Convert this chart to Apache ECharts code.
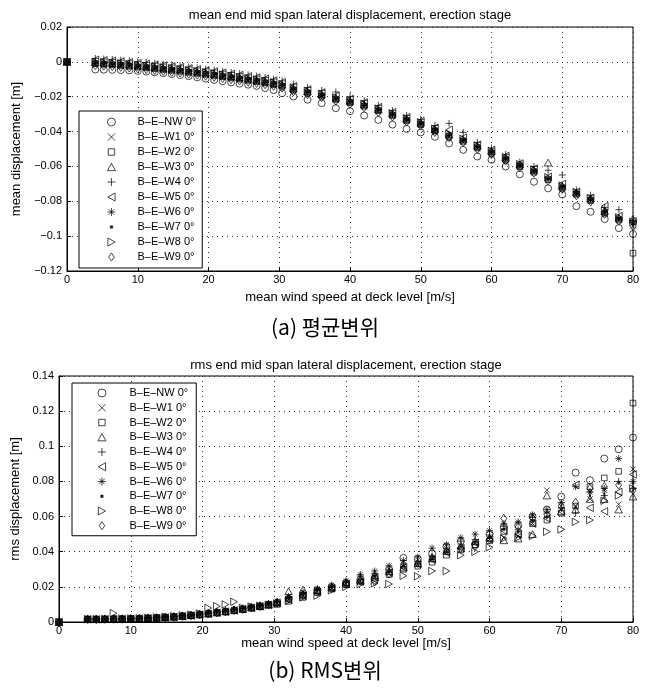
<!DOCTYPE html>
<html><head><meta charset="utf-8">
<script src="https://cdn.jsdelivr.net/npm/echarts/dist/echarts.min.js"></script>
<style>html,body{margin:0;padding:0;background:#fff}#c{width:651px;height:695px}</style>
</head><body><div id="c"></div>
<script>
// wind speed at deck level [m/s]
const speeds = [0, 4.0, 5.2, 6.4, 7.6, 8.8, 10.0, 11.2, 12.4, 13.6, 14.8, 16.0, 17.2, 18.4, 19.6, 20.8, 22.0, 23.2, 24.4, 25.6, 26.8, 28.0, 29.2, 30.4, 32, 34, 36, 38, 40, 42, 44, 46, 48, 50, 52, 54, 56, 58, 60, 62, 64, 66, 68, 70, 72, 74, 76, 78, 80];
const seriesNames = ['B–E–NW 0°', 'B–E–W1 0°', 'B–E–W2 0°', 'B–E–W3 0°', 'B–E–W4 0°', 'B–E–W5 0°', 'B–E–W6 0°', 'B–E–W7 0°', 'B–E–W8 0°', 'B–E–W9 0°'];
const xTicks = [0, 10, 20, 30, 40, 50, 60, 70, 80];
const meanTicks = [-0.12, -0.1, -0.08, -0.06, -0.04, -0.02, 0, 0.02];
const rmsTicks = [0, 0.02, 0.04, 0.06, 0.08, 0.1, 0.12, 0.14];

// (a) mean displacement [m]
const meanNW = [0, -0.0044, -0.0045, -0.0046, -0.0047, -0.0049, -0.0052, -0.0056, -0.0060, -0.0065, -0.0070, -0.0076, -0.0082, -0.0089, -0.0096, -0.0104, -0.0111, -0.0118, -0.0125, -0.0131, -0.0138, -0.0150, -0.0162, -0.0180, -0.0199, -0.0217, -0.0237, -0.0266, -0.0283, -0.0308, -0.0333, -0.0360, -0.0385, -0.0405, -0.0430, -0.0468, -0.0505, -0.0543, -0.0562, -0.0601, -0.0645, -0.0688, -0.0726, -0.0761, -0.0828, -0.0860, -0.0902, -0.0954, -0.0988];
const meanW1 = [0, -0.0013, -0.0016, -0.0019, -0.0023, -0.0027, -0.0032, -0.0036, -0.0041, -0.0046, -0.0051, -0.0056, -0.0062, -0.0068, -0.0074, -0.0080, -0.0087, -0.0094, -0.0101, -0.0108, -0.0115, -0.0123, -0.0132, -0.0142, -0.0163, -0.0181, -0.0198, -0.0219, -0.0237, -0.0257, -0.0285, -0.0311, -0.0340, -0.0363, -0.0400, -0.0431, -0.0459, -0.0497, -0.0527, -0.0565, -0.0604, -0.0636, -0.0680, -0.0728, -0.0765, -0.0800, -0.0872, -0.0910, -0.0940];
const meanW2 = [0, -0.0011, -0.0014, -0.0017, -0.0021, -0.0025, -0.0030, -0.0034, -0.0039, -0.0044, -0.0049, -0.0054, -0.0060, -0.0066, -0.0072, -0.0078, -0.0085, -0.0092, -0.0099, -0.0106, -0.0113, -0.0121, -0.0130, -0.0140, -0.0161, -0.0178, -0.0196, -0.0216, -0.0234, -0.0254, -0.0281, -0.0308, -0.0337, -0.0360, -0.0397, -0.0428, -0.0456, -0.0494, -0.0524, -0.0562, -0.0601, -0.0633, -0.0676, -0.0724, -0.0760, -0.0796, -0.0868, -0.0908, -0.1098];
const meanW3 = [0, -0.0002, -0.0005, -0.0008, -0.0012, -0.0016, -0.0021, -0.0025, -0.0030, -0.0035, -0.0040, -0.0045, -0.0051, -0.0057, -0.0063, -0.0069, -0.0076, -0.0083, -0.0090, -0.0097, -0.0104, -0.0112, -0.0121, -0.0131, -0.0152, -0.0169, -0.0186, -0.0206, -0.0224, -0.0244, -0.0271, -0.0297, -0.0326, -0.0349, -0.0386, -0.0416, -0.0444, -0.0482, -0.0512, -0.0550, -0.0589, -0.0620, -0.0578, -0.0712, -0.0749, -0.0784, -0.0856, -0.0894, -0.0900];
const meanW4 = [0, 0.0020, 0.0017, 0.0014, 0.0010, 0.0006, 0.0001, -0.0003, -0.0008, -0.0013, -0.0018, -0.0023, -0.0029, -0.0035, -0.0041, -0.0047, -0.0054, -0.0061, -0.0068, -0.0075, -0.0082, -0.0090, -0.0099, -0.0109, -0.0128, -0.0147, -0.0164, -0.0173, -0.0200, -0.0222, -0.0250, -0.0280, -0.0307, -0.0330, -0.0365, -0.0353, -0.0405, -0.0462, -0.0495, -0.0532, -0.0575, -0.0600, -0.0622, -0.0649, -0.0735, -0.0765, -0.0835, -0.0848, -0.0910];
const meanW5 = [0, 0.0012, 0.0009, 0.0006, 0.0002, -0.0002, -0.0007, -0.0011, -0.0016, -0.0021, -0.0026, -0.0031, -0.0037, -0.0043, -0.0049, -0.0055, -0.0062, -0.0069, -0.0076, -0.0083, -0.0090, -0.0098, -0.0107, -0.0117, -0.0140, -0.0158, -0.0175, -0.0195, -0.0213, -0.0233, -0.0260, -0.0288, -0.0318, -0.0340, -0.0378, -0.0390, -0.0435, -0.0475, -0.0505, -0.0540, -0.0583, -0.0612, -0.0660, -0.0700, -0.0745, -0.0780, -0.0828, -0.0885, -0.0915];
const meanW6 = [0, -0.0008, -0.0011, -0.0014, -0.0018, -0.0022, -0.0027, -0.0031, -0.0036, -0.0041, -0.0046, -0.0051, -0.0057, -0.0063, -0.0069, -0.0075, -0.0082, -0.0089, -0.0096, -0.0103, -0.0110, -0.0118, -0.0127, -0.0137, -0.0158, -0.0175, -0.0192, -0.0212, -0.0230, -0.0250, -0.0277, -0.0303, -0.0332, -0.0355, -0.0392, -0.0422, -0.0450, -0.0488, -0.0518, -0.0556, -0.0595, -0.0626, -0.0670, -0.0718, -0.0755, -0.0790, -0.0862, -0.0900, -0.0925];
const meanW7 = [0, -0.0010, -0.0013, -0.0016, -0.0020, -0.0024, -0.0029, -0.0033, -0.0038, -0.0043, -0.0048, -0.0053, -0.0059, -0.0065, -0.0071, -0.0077, -0.0084, -0.0091, -0.0098, -0.0105, -0.0112, -0.0120, -0.0129, -0.0139, -0.0160, -0.0177, -0.0194, -0.0214, -0.0232, -0.0252, -0.0279, -0.0305, -0.0334, -0.0357, -0.0394, -0.0424, -0.0452, -0.0490, -0.0520, -0.0558, -0.0597, -0.0628, -0.0672, -0.0720, -0.0757, -0.0792, -0.0864, -0.0902, -0.0930];
const meanW8 = [0, 0.0000, -0.0003, -0.0006, -0.0010, -0.0014, -0.0019, -0.0023, -0.0028, -0.0033, -0.0038, -0.0043, -0.0049, -0.0055, -0.0061, -0.0067, -0.0074, -0.0081, -0.0088, -0.0095, -0.0102, -0.0110, -0.0119, -0.0129, -0.0150, -0.0167, -0.0184, -0.0204, -0.0222, -0.0242, -0.0269, -0.0295, -0.0324, -0.0347, -0.0384, -0.0414, -0.0442, -0.0480, -0.0510, -0.0548, -0.0587, -0.0618, -0.0662, -0.0710, -0.0747, -0.0782, -0.0854, -0.0892, -0.0918];
const meanW9 = [0, -0.0020, -0.0023, -0.0026, -0.0030, -0.0034, -0.0039, -0.0043, -0.0048, -0.0053, -0.0058, -0.0063, -0.0069, -0.0075, -0.0081, -0.0087, -0.0094, -0.0101, -0.0108, -0.0115, -0.0122, -0.0130, -0.0139, -0.0149, -0.0170, -0.0187, -0.0204, -0.0224, -0.0242, -0.0262, -0.0289, -0.0315, -0.0344, -0.0367, -0.0404, -0.0434, -0.0462, -0.0500, -0.0530, -0.0568, -0.0607, -0.0638, -0.0682, -0.0730, -0.0767, -0.0802, -0.0874, -0.0912, -0.0945];

// (b) rms displacement [m]
const rmsNW = [0, 0.0016, 0.0016, 0.0017, 0.0018, 0.0018, 0.0019, 0.0020, 0.0022, 0.0024, 0.0027, 0.0030, 0.0034, 0.0038, 0.0043, 0.0048, 0.0054, 0.0060, 0.0067, 0.0074, 0.0082, 0.0090, 0.0099, 0.0110, 0.0132, 0.0152, 0.0180, 0.0200, 0.0222, 0.0240, 0.0240, 0.0300, 0.0365, 0.0360, 0.0390, 0.0430, 0.0460, 0.0440, 0.0500, 0.0540, 0.0550, 0.0600, 0.0640, 0.0714, 0.0850, 0.0807, 0.0930, 0.0983, 0.1050];
const rmsW1 = [0, 0.0015, 0.0015, 0.0016, 0.0016, 0.0017, 0.0018, 0.0019, 0.0020, 0.0022, 0.0025, 0.0028, 0.0032, 0.0036, 0.0041, 0.0046, 0.0052, 0.0058, 0.0065, 0.0072, 0.0080, 0.0088, 0.0097, 0.0107, 0.0128, 0.0148, 0.0172, 0.0192, 0.0218, 0.0232, 0.0258, 0.0280, 0.0315, 0.0325, 0.0355, 0.0395, 0.0425, 0.0450, 0.0470, 0.0480, 0.0490, 0.0560, 0.0750, 0.0660, 0.0660, 0.0700, 0.0750, 0.0670, 0.0870];
const rmsW2 = [0, 0.0014, 0.0014, 0.0015, 0.0016, 0.0016, 0.0017, 0.0018, 0.0020, 0.0022, 0.0025, 0.0028, 0.0032, 0.0036, 0.0041, 0.0046, 0.0052, 0.0058, 0.0065, 0.0072, 0.0080, 0.0088, 0.0097, 0.0100, 0.0118, 0.0140, 0.0168, 0.0188, 0.0212, 0.0228, 0.0250, 0.0270, 0.0300, 0.0318, 0.0340, 0.0380, 0.0410, 0.0440, 0.0462, 0.0515, 0.0500, 0.0560, 0.0580, 0.0620, 0.0660, 0.0770, 0.0820, 0.0857, 0.1246];
const rmsW3 = [0, 0.0016, 0.0016, 0.0017, 0.0018, 0.0018, 0.0019, 0.0020, 0.0022, 0.0024, 0.0027, 0.0030, 0.0034, 0.0038, 0.0043, 0.0048, 0.0054, 0.0060, 0.0067, 0.0074, 0.0082, 0.0090, 0.0099, 0.0112, 0.0175, 0.0185, 0.0180, 0.0200, 0.0225, 0.0240, 0.0265, 0.0290, 0.0310, 0.0335, 0.0362, 0.0405, 0.0435, 0.0460, 0.0480, 0.0465, 0.0475, 0.0500, 0.0720, 0.0630, 0.0640, 0.0700, 0.0700, 0.0640, 0.0714];
const rmsW4 = [0, 0.0016, 0.0016, 0.0017, 0.0018, 0.0018, 0.0019, 0.0020, 0.0022, 0.0024, 0.0027, 0.0031, 0.0035, 0.0039, 0.0044, 0.0050, 0.0056, 0.0062, 0.0070, 0.0077, 0.0085, 0.0094, 0.0104, 0.0115, 0.0140, 0.0160, 0.0185, 0.0205, 0.0228, 0.0262, 0.0275, 0.0300, 0.0330, 0.0345, 0.0375, 0.0420, 0.0460, 0.0470, 0.0495, 0.0545, 0.0525, 0.0595, 0.0620, 0.0650, 0.0620, 0.0740, 0.0720, 0.0800, 0.0760];
const rmsW5 = [0, 0.0015, 0.0015, 0.0016, 0.0017, 0.0017, 0.0018, 0.0019, 0.0021, 0.0023, 0.0026, 0.0029, 0.0033, 0.0037, 0.0042, 0.0047, 0.0053, 0.0059, 0.0066, 0.0073, 0.0081, 0.0089, 0.0098, 0.0108, 0.0125, 0.0148, 0.0172, 0.0192, 0.0218, 0.0230, 0.0255, 0.0280, 0.0312, 0.0328, 0.0355, 0.0395, 0.0420, 0.0450, 0.0470, 0.0520, 0.0500, 0.0560, 0.0590, 0.0630, 0.0780, 0.0650, 0.0630, 0.0740, 0.0840];
const rmsW6 = [0, 0.0016, 0.0016, 0.0017, 0.0018, 0.0018, 0.0019, 0.0020, 0.0022, 0.0024, 0.0027, 0.0031, 0.0035, 0.0040, 0.0045, 0.0051, 0.0057, 0.0064, 0.0071, 0.0079, 0.0087, 0.0096, 0.0105, 0.0118, 0.0145, 0.0170, 0.0190, 0.0210, 0.0235, 0.0270, 0.0290, 0.0320, 0.0350, 0.0370, 0.0420, 0.0440, 0.0480, 0.0500, 0.0520, 0.0560, 0.0570, 0.0610, 0.0640, 0.0680, 0.0770, 0.0740, 0.0760, 0.0930, 0.0800];
const rmsW7 = [0, 0.0015, 0.0015, 0.0016, 0.0017, 0.0017, 0.0018, 0.0019, 0.0021, 0.0023, 0.0026, 0.0029, 0.0033, 0.0037, 0.0042, 0.0047, 0.0053, 0.0059, 0.0066, 0.0073, 0.0081, 0.0089, 0.0098, 0.0108, 0.0130, 0.0150, 0.0175, 0.0195, 0.0220, 0.0235, 0.0260, 0.0285, 0.0318, 0.0330, 0.0360, 0.0400, 0.0430, 0.0455, 0.0478, 0.0530, 0.0510, 0.0580, 0.0600, 0.0640, 0.0650, 0.0720, 0.0730, 0.0790, 0.0790];
const rmsW8 = [0, 0.0016, 0.0016, 0.0017, 0.0050, 0.0020, 0.0020, 0.0021, 0.0023, 0.0026, 0.0029, 0.0033, 0.0037, 0.0042, 0.0048, 0.0080, 0.0090, 0.0100, 0.0115, 0.0080, 0.0088, 0.0092, 0.0098, 0.0105, 0.0120, 0.0140, 0.0150, 0.0180, 0.0200, 0.0215, 0.0220, 0.0216, 0.0263, 0.0260, 0.0290, 0.0290, 0.0380, 0.0400, 0.0425, 0.0475, 0.0480, 0.0490, 0.0514, 0.0527, 0.0570, 0.0580, 0.0690, 0.0720, 0.0760];
const rmsW9 = [0, 0.0015, 0.0015, 0.0016, 0.0017, 0.0017, 0.0018, 0.0019, 0.0021, 0.0023, 0.0026, 0.0029, 0.0033, 0.0037, 0.0042, 0.0047, 0.0053, 0.0059, 0.0066, 0.0073, 0.0081, 0.0089, 0.0098, 0.0108, 0.0135, 0.0155, 0.0170, 0.0190, 0.0215, 0.0235, 0.0230, 0.0275, 0.0320, 0.0335, 0.0365, 0.0405, 0.0420, 0.0430, 0.0470, 0.0589, 0.0540, 0.0590, 0.0610, 0.0660, 0.0680, 0.0760, 0.0770, 0.0780, 0.0750];

const meanData = [meanNW, meanW1, meanW2, meanW3, meanW4, meanW5, meanW6, meanW7, meanW8, meanW9];
const rmsData = [rmsNW, rmsW1, rmsW2, rmsW3, rmsW4, rmsW5, rmsW6, rmsW7, rmsW8, rmsW9];
meanData.concat(rmsData).forEach((a, i) => { if (a.length !== speeds.length) throw new Error('length mismatch in array ' + i + ': ' + a.length); });

const FONT = '"Liberation Sans", Arial, sans-serif';
// all marker paths share a 10x10 box (leading moveTo points fix the box)
const BOX = 'path://M0,0M10,10';
const SYMBOLS = [
  'circle',
  BOX + 'M0.5,0.5L9.5,9.5M9.5,0.5L0.5,9.5',
  BOX + 'M1,1L9,1L9,9L1,9Z',
  BOX + 'M5,0.5L10,9.5L0,9.5Z',
  BOX + 'M5,0L5,10M0,5L10,5',
  BOX + 'M9.5,0L0.5,5L9.5,10Z',
  BOX + 'M5,0L5,10M0,5L10,5M1.5,1.5L8.5,8.5M8.5,1.5L1.5,8.5',
  BOX + 'M3.6,3.6L6.4,3.6L6.4,6.4L3.6,6.4Z',
  BOX + 'M0.5,0L9.5,5L0.5,10Z',
  BOX + 'M5,0L8.5,5L5,10L1.5,5Z'
];
const SIZES = [7, 6, 7, 7.5, 7, 7.5, 7, 8, 7.5, 8.5];

const hollow = { color: 'rgba(0,0,0,0)', borderColor: '#000', borderWidth: 0.9 };
const solid = { color: '#000', borderColor: '#000', borderWidth: 0 };

function makeSeries(dataArr, gi) {
  return seriesNames.map((n, i) => ({
    type: 'scatter', name: n, xAxisIndex: gi, yAxisIndex: gi,
    data: speeds.map((s, j) => [s, dataArr[i][j]]),
    symbol: SYMBOLS[i], symbolSize: SIZES[i],
    itemStyle: i === 7 ? solid : hollow,
    emphasis: { disabled: true }, silent: true
  }));
}

const minus = v => String(+(+v).toFixed(2)).replace('-', '−');

function xAxisCfg(gi, gap) {
  return {
    type: 'value', gridIndex: gi, min: xTicks[0], max: xTicks[xTicks.length - 1], interval: 10,
    name: 'mean wind speed at deck level [m/s]', nameLocation: 'middle', nameGap: gap,
    nameTextStyle: { fontFamily: FONT, fontSize: 13, color: '#000' },
    axisLine: { show: true, onZero: false, lineStyle: { color: '#000', width: 1 } },
    axisTick: { show: true, inside: true, length: 4, lineStyle: { color: '#000' } },
    axisLabel: { fontFamily: FONT, fontSize: 11, color: '#000', margin: 3 },
    splitLine: { show: true, lineStyle: { color: '#333', type: [1, 4], width: 1 } }
  };
}
function yAxisCfg(gi, ticks, name, gap) {
  return {
    type: 'value', gridIndex: gi, min: ticks[0], max: ticks[ticks.length - 1], interval: 0.02,
    name: name, nameLocation: 'middle', nameGap: gap,
    nameTextStyle: { fontFamily: FONT, fontSize: 13, color: '#000' },
    axisLine: { show: true, onZero: false, lineStyle: { color: '#000', width: 1 } },
    axisTick: { show: true, inside: true, length: 4, lineStyle: { color: '#000' } },
    axisLabel: { fontFamily: FONT, fontSize: 11, color: '#000', margin: 5, formatter: minus },
    splitLine: { show: true, lineStyle: { color: '#333', type: [1, 4], width: 1 } }
  };
}
function legendCfg(left, top, pad, iw, gap) {
  return {
    data: seriesNames, orient: 'vertical', left: left, top: top, padding: pad,
    itemWidth: iw, itemHeight: 8, itemGap: gap, selectedMode: false,
    backgroundColor: '#fff', borderColor: '#000', borderWidth: 1, borderRadius: 0,
    itemStyle: { borderWidth: 0.9 },
    textStyle: { fontFamily: FONT, fontSize: 11, color: '#000', lineHeight: 12 }
  };
}

const chart = echarts.init(document.getElementById('c'), null, { renderer: 'canvas' });
chart.setOption({
  animation: false,
  backgroundColor: '#fff',
  grid: [
    { left: 67, top: 27, width: 566, height: 244, show: true, borderColor: '#000', borderWidth: 1, backgroundColor: 'rgba(0,0,0,0)', outerBoundsMode: 'none' },
    { left: 59, top: 376, width: 574, height: 246, show: true, borderColor: '#000', borderWidth: 1, backgroundColor: 'rgba(0,0,0,0)', outerBoundsMode: 'none' }
  ],
  xAxis: [xAxisCfg(0, 20), xAxisCfg(1, 14)],
  yAxis: [yAxisCfg(0, meanTicks, 'mean displacement [m]', 43), yAxisCfg(1, rmsTicks, 'rms displacement [m]', 36)],
  legend: [legendCfg(79, 111, [5, 6, 5, 28], 42, 3), legendCfg(72, 383, [4, 8, 4, 25.5], 45, 2.75)],
  graphic: [
    { type: 'text', x: 350, y: 15, style: { text: 'mean end mid span lateral displacement, erection stage', font: '13px ' + FONT, fill: '#000', textAlign: 'center', textVerticalAlign: 'middle' } },
    { type: 'text', x: 346, y: 365, style: { text: 'rms end mid span lateral displacement, erection stage', font: '13px ' + FONT, fill: '#000', textAlign: 'center', textVerticalAlign: 'middle' } },
    { type: 'text', x: 325, y: 327, style: { text: '(a) 평균변위', font: '21px "Noto Sans CJK KR"', fill: '#000', textAlign: 'center', textVerticalAlign: 'middle' } },
    { type: 'text', x: 325, y: 670, style: { text: '(b) RMS변위', font: '21px "Noto Sans CJK KR"', fill: '#000', textAlign: 'center', textVerticalAlign: 'middle' } }
  ],
  series: makeSeries(meanData, 0).concat(makeSeries(rmsData, 1))
});
</script>
</body></html>
